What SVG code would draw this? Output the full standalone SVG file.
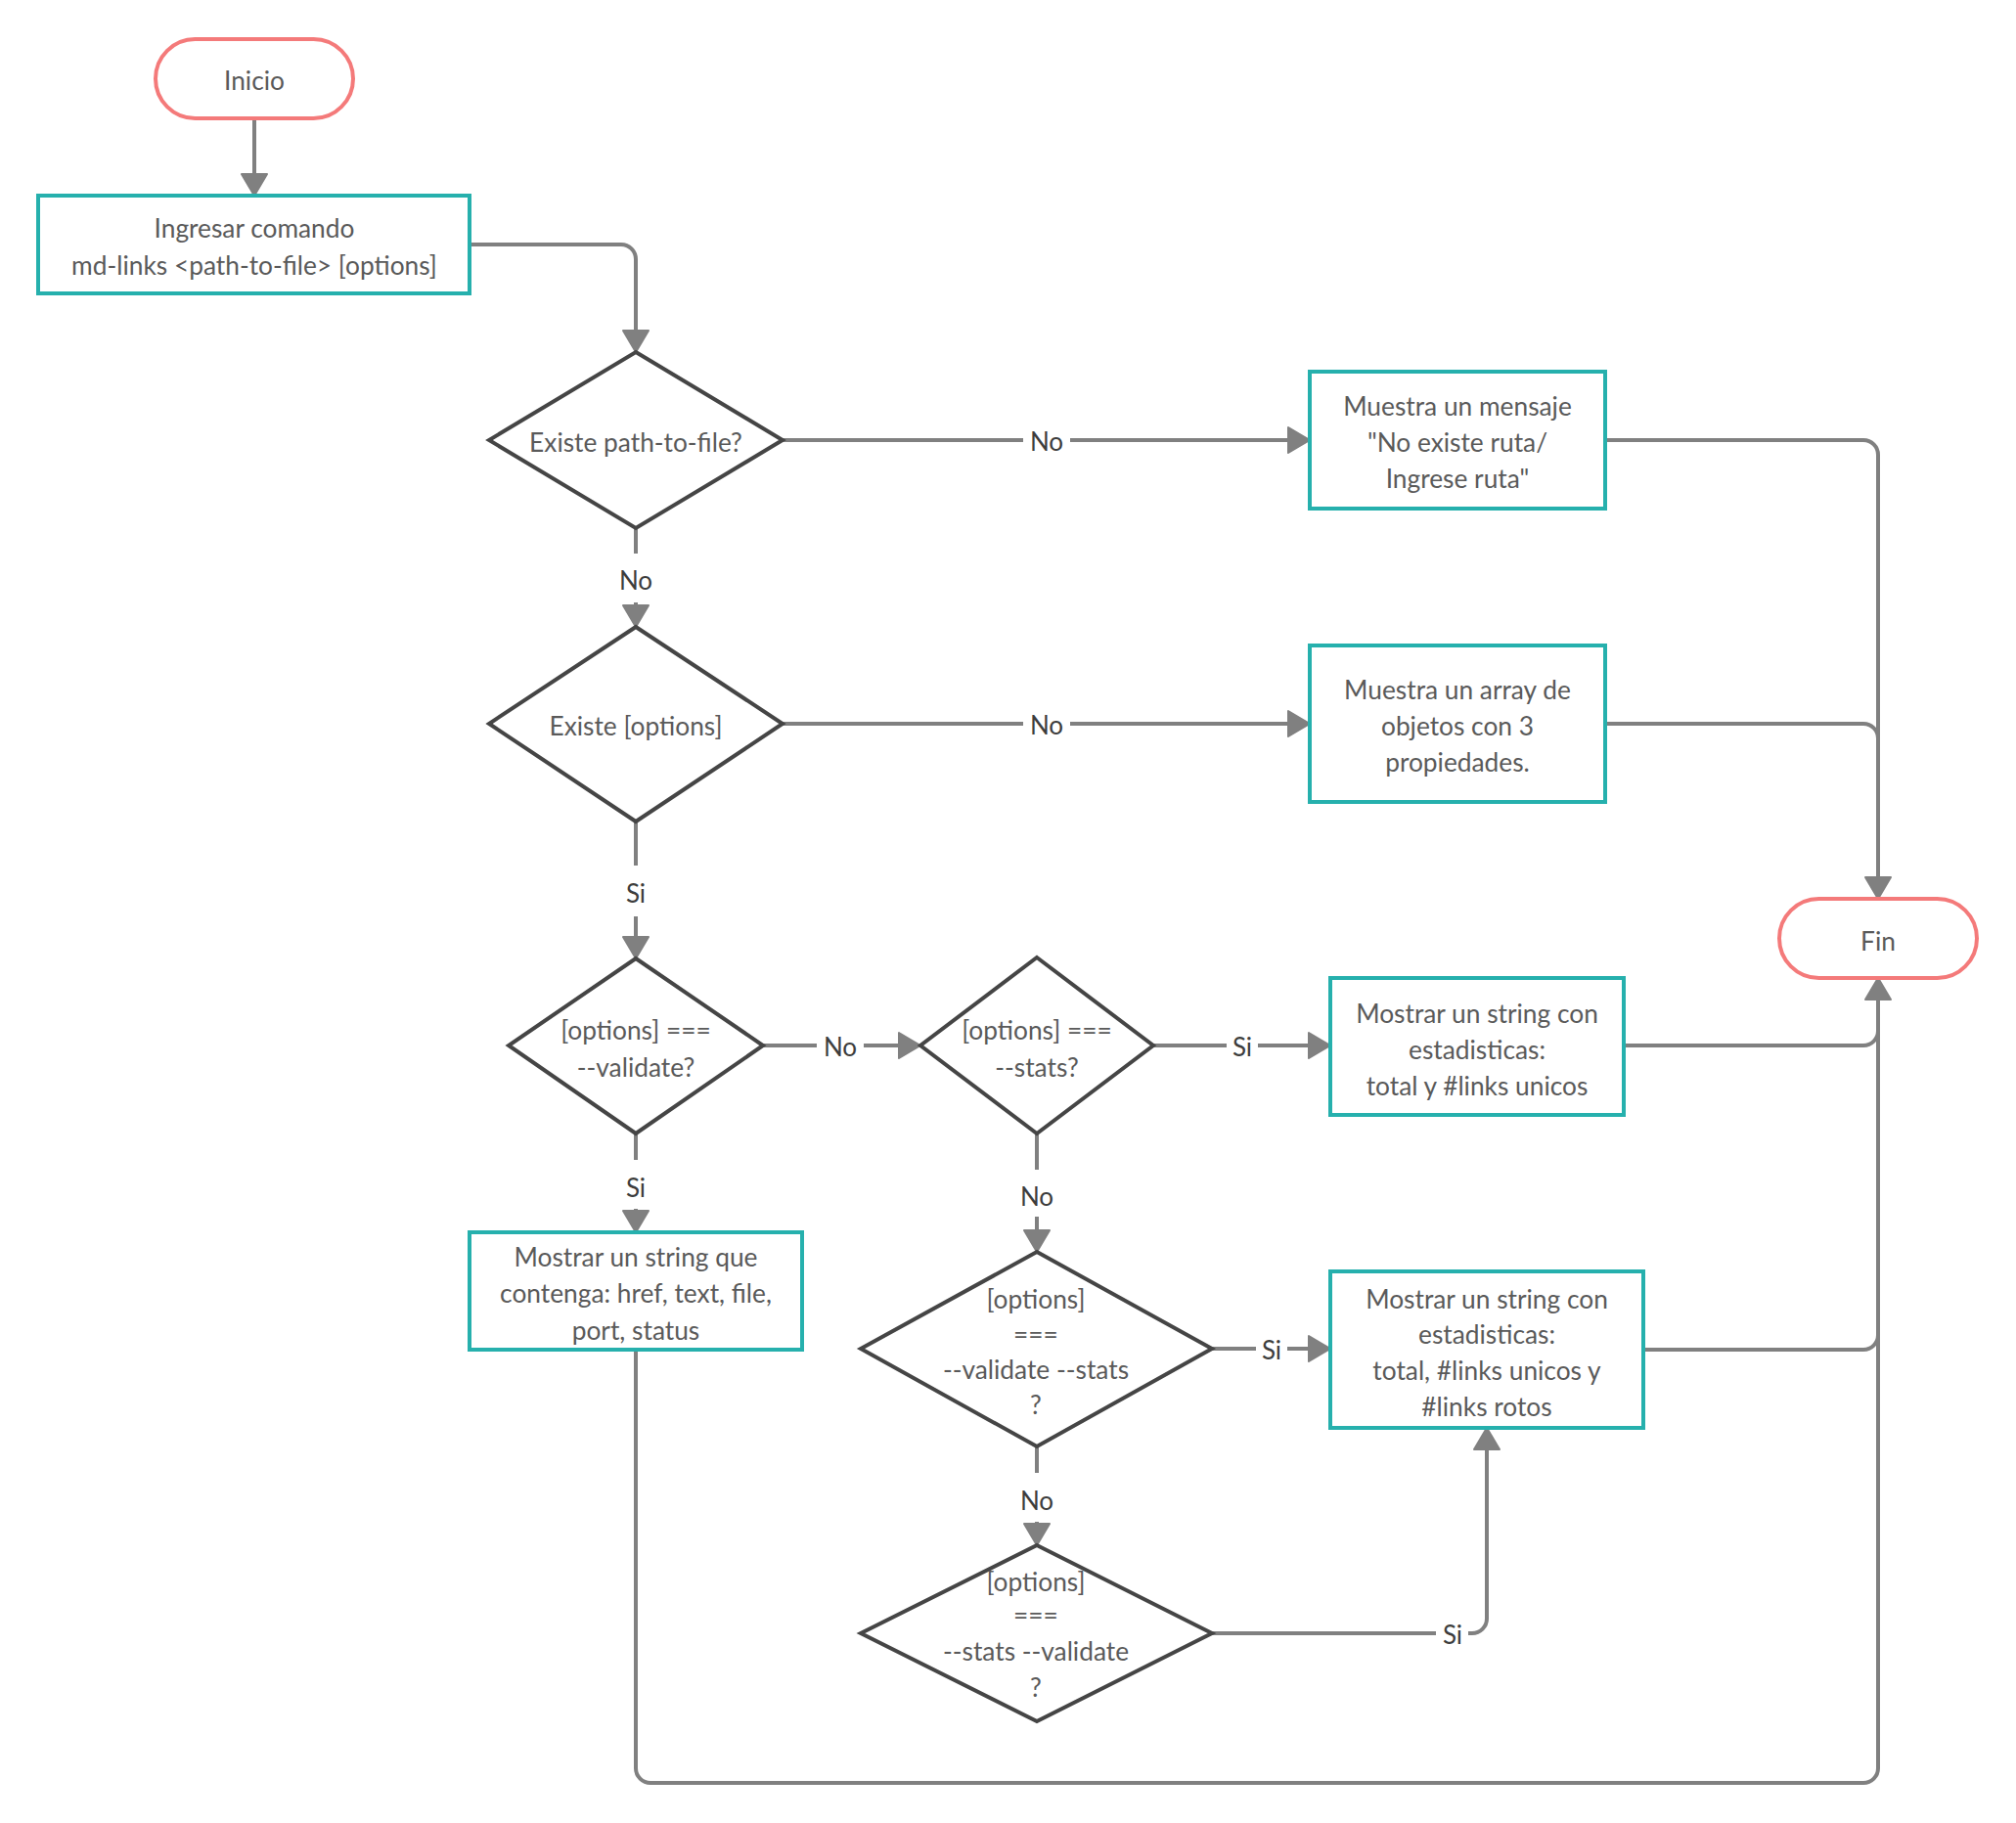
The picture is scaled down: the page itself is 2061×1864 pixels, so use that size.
<svg xmlns="http://www.w3.org/2000/svg" width="2061" height="1864" viewBox="0 0 2061 1864">
<defs>
<style>
.t{font-family:Lato,"Liberation Sans",sans-serif;font-size:26.3px;fill:#5a5a5a;text-anchor:middle}
.lb{font-family:Lato,"Liberation Sans",sans-serif;font-size:26px;fill:#3d3d3d;text-anchor:middle}
.term{fill:#fff;stroke:#f47a7a;stroke-width:4}
.box{fill:#fff;stroke:#26b0ad;stroke-width:4}
.dec{fill:#fff;stroke:#454545;stroke-width:4;stroke-linejoin:miter}
.c{fill:none;stroke:#808080;stroke-width:4}
.lbg{fill:#fff}
</style>
<marker id="ah" markerUnits="userSpaceOnUse" markerWidth="26" markerHeight="30" viewBox="-2 -2 26 30" refX="18" refY="13" orient="auto">
<path d="M0,0 L22,13 L0,26 Z" fill="#808080" stroke="#808080" stroke-width="2" stroke-linejoin="round"/>
</marker>
</defs>
<rect width="2061" height="1864" fill="#fff"/>

<g id="connectors">
<path class="c" d="M260,121 V196" marker-end="url(#ah)"/>
<path class="c" d="M480,250 H635 A15,15 0 0 1 650,265 V356" marker-end="url(#ah)"/>
<path class="c" d="M800,450 H1335" marker-end="url(#ah)"/>
<path class="c" d="M650,540 V637" marker-end="url(#ah)"/>
<path class="c" d="M800,740 H1335" marker-end="url(#ah)"/>
<path class="c" d="M650,840 V976" marker-end="url(#ah)"/>
<path class="c" d="M780,1069 H937" marker-end="url(#ah)"/>
<path class="c" d="M1179,1069 H1356" marker-end="url(#ah)"/>
<path class="c" d="M650,1159 V1256" marker-end="url(#ah)"/>
<path class="c" d="M1060,1159 V1276" marker-end="url(#ah)"/>
<path class="c" d="M1239,1379 H1356" marker-end="url(#ah)"/>
<path class="c" d="M1060,1479 V1576" marker-end="url(#ah)"/>
<path class="c" d="M1239,1670 H1505 A15,15 0 0 0 1520,1655 V1464" marker-end="url(#ah)"/>
<path class="c" d="M1641,450 H1905 A15,15 0 0 1 1920,465 V915" marker-end="url(#ah)"/>
<path class="c" d="M1641,740 H1905 A15,15 0 0 1 1920,755"/>
<path class="c" d="M650,1380 V1808 A15,15 0 0 0 665,1823 H1905 A15,15 0 0 0 1920,1808 V1004" marker-end="url(#ah)"/>
<path class="c" d="M1660,1069 H1905 A15,15 0 0 0 1920,1054"/>
<path class="c" d="M1680,1380 H1905 A15,15 0 0 0 1920,1365"/>

<rect class="lbg" x="1046" y="432" width="48" height="36"/>
<text class="lb" x="1070" y="461">No</text>
<rect class="lbg" x="1046" y="722" width="48" height="36"/>
<text class="lb" x="1070" y="751">No</text>
<rect class="lbg" x="626" y="566" width="48" height="50"/>
<text class="lb" x="650" y="603">No</text>
<rect class="lbg" x="632" y="885" width="36" height="52"/>
<text class="lb" x="650" y="923">Si</text>
<rect class="lbg" x="835" y="1051" width="48" height="36"/>
<text class="lb" x="859" y="1080">No</text>
<rect class="lbg" x="1254" y="1051" width="32" height="36"/>
<text class="lb" x="1270" y="1080">Si</text>
<rect class="lbg" x="632" y="1186" width="36" height="50"/>
<text class="lb" x="650" y="1224">Si</text>
<rect class="lbg" x="1036" y="1196" width="48" height="48"/>
<text class="lb" x="1060" y="1233">No</text>
<rect class="lbg" x="1284" y="1361" width="32" height="36"/>
<text class="lb" x="1300" y="1390">Si</text>
<rect class="lbg" x="1036" y="1506" width="48" height="50"/>
<text class="lb" x="1060" y="1544">No</text>
<rect class="lbg" x="1468" y="1652" width="33" height="36"/>
<text class="lb" x="1485" y="1681">Si</text>
</g>

<g id="inicio">
<rect class="term" x="159" y="40" width="202" height="81" rx="40.5"/>
<text class="t" x="260" y="92">Inicio</text>
</g>

<g id="ingresar">
<rect class="box" x="39" y="200" width="441" height="100"/>
<text class="t" x="260" y="243">Ingresar comando</text>
<text class="t" x="260" y="281">md-links &lt;path-to-file&gt; [options]</text>
</g>

<g id="d-existe-path">
<polygon class="dec" points="650,360 800,450 650,540 500,450"/>
<text class="t" x="650" y="462">Existe path-to-file?</text>
</g>

<g id="box-no-ruta">
<rect class="box" x="1339" y="380" width="302" height="140"/>
<text class="t" x="1490" y="425">Muestra un mensaje</text>
<text class="t" x="1490" y="462">"No existe ruta/</text>
<text class="t" x="1490" y="499">Ingrese ruta"</text>
</g>

<g id="d-existe-options">
<polygon class="dec" points="650,641 800,740 650,840 500,740"/>
<text class="t" x="650" y="752">Existe [options]</text>
</g>

<g id="box-array">
<rect class="box" x="1339" y="660" width="302" height="160"/>
<text class="t" x="1490" y="715">Muestra un array de</text>
<text class="t" x="1490" y="752">objetos con 3</text>
<text class="t" x="1490" y="789">propiedades.</text>
</g>

<g id="fin">
<rect class="term" x="1819" y="919" width="202" height="81" rx="40.5"/>
<text class="t" x="1920" y="972">Fin</text>
</g>

<g id="d-validate">
<polygon class="dec" points="650,980 780,1069 650,1159 520,1069"/>
<text class="t" x="650" y="1063">[options] ===</text>
<text class="t" x="650" y="1101">--validate?</text>
</g>

<g id="d-stats">
<polygon class="dec" points="1060,979 1179,1069 1060,1159 941,1069"/>
<text class="t" x="1060" y="1063">[options] ===</text>
<text class="t" x="1060" y="1101">--stats?</text>
</g>

<g id="box-stats">
<rect class="box" x="1360" y="1000" width="300" height="140"/>
<text class="t" x="1510" y="1046">Mostrar un string con</text>
<text class="t" x="1510" y="1083">estadisticas:</text>
<text class="t" x="1510" y="1120">total y #links unicos</text>
</g>

<g id="box-validate">
<rect class="box" x="480" y="1260" width="340" height="120"/>
<text class="t" x="650" y="1295">Mostrar un string que</text>
<text class="t" x="650" y="1332">contenga: href, text, file,</text>
<text class="t" x="650" y="1370">port, status</text>
</g>

<g id="d-validate-stats">
<polygon class="dec" points="1060,1280 1239,1379 1060,1479 880,1379"/>
<text class="t" x="1059" y="1338">[options]</text>
<text class="t" x="1059" y="1374">===</text>
<text class="t" x="1059" y="1410">--validate --stats</text>
<text class="t" x="1059" y="1446">?</text>
</g>

<g id="box-stats-validate">
<rect class="box" x="1360" y="1300" width="320" height="160"/>
<text class="t" x="1520" y="1338">Mostrar un string con</text>
<text class="t" x="1520" y="1374">estadisticas:</text>
<text class="t" x="1520" y="1411">total, #links unicos y</text>
<text class="t" x="1520" y="1448">#links rotos</text>
</g>

<g id="d-stats-validate">
<polygon class="dec" points="1060,1580 1239,1670 1060,1760 880,1670"/>
<text class="t" x="1059" y="1627">[options]</text>
<text class="t" x="1059" y="1661">===</text>
<text class="t" x="1059" y="1698">--stats --validate</text>
<text class="t" x="1059" y="1735">?</text>
</g>
</svg>
